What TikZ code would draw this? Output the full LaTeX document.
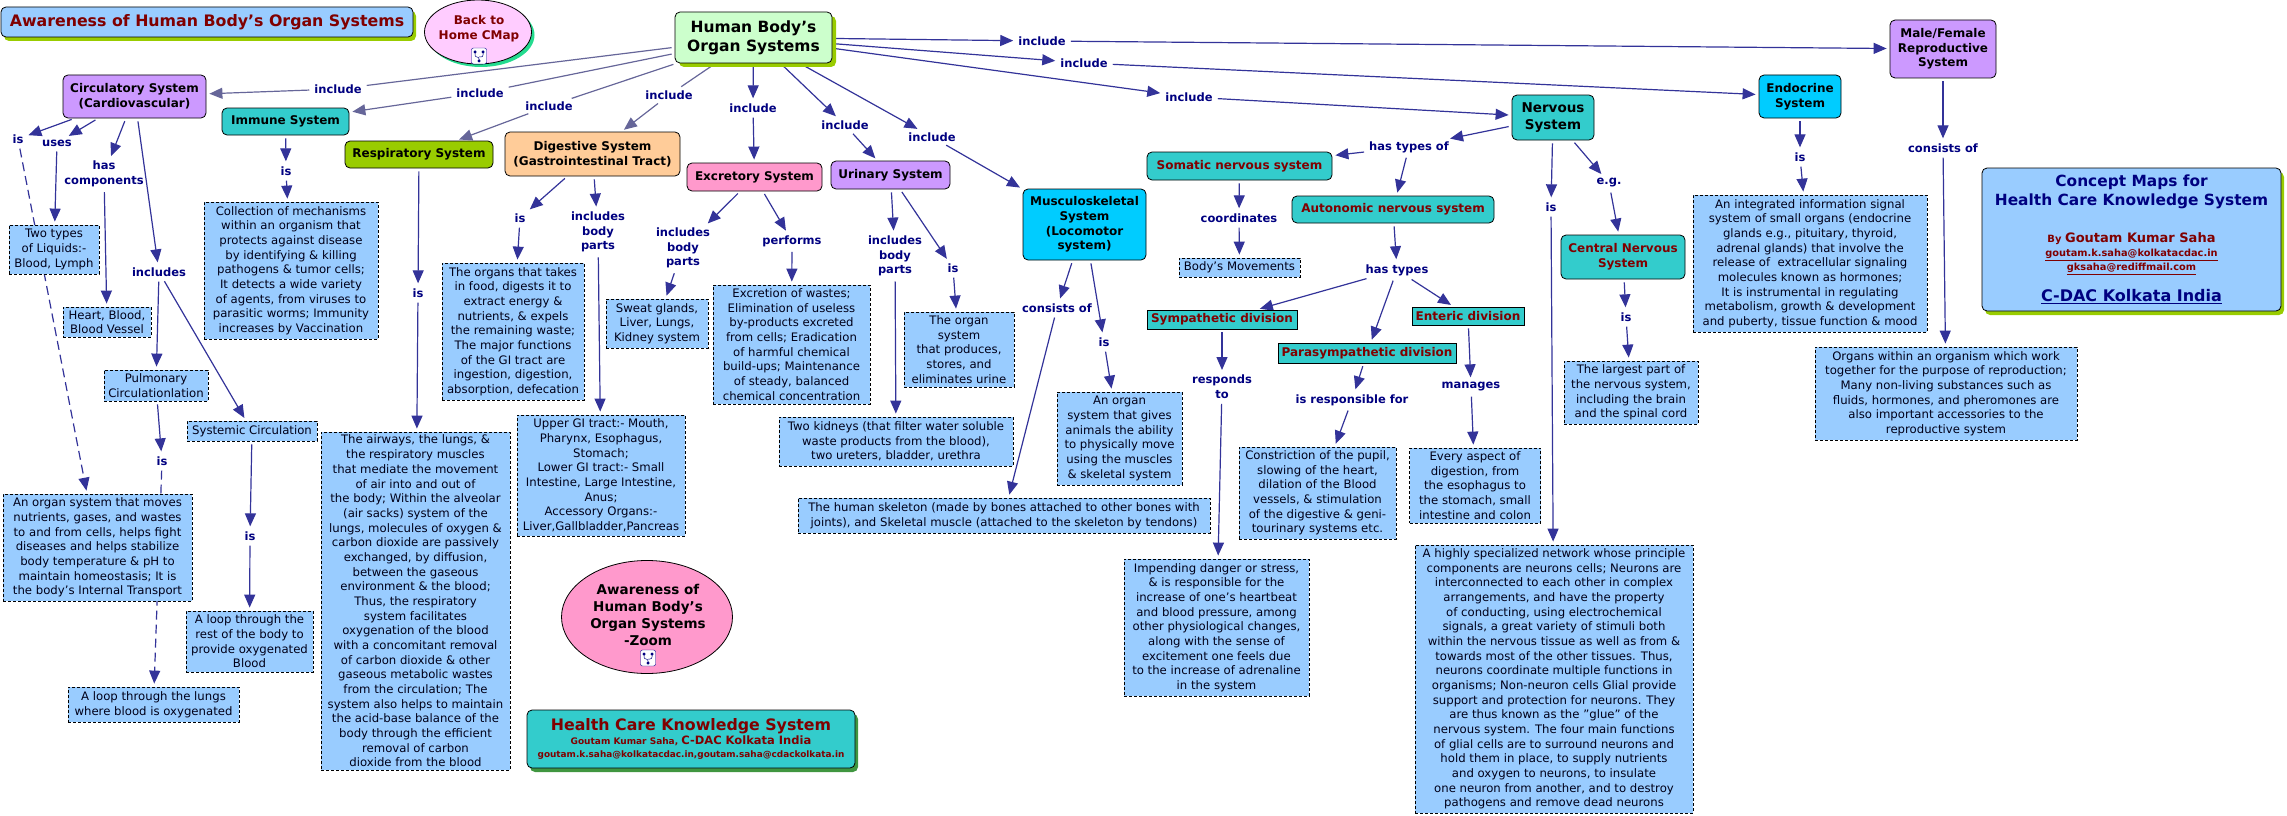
\documentclass[tikz,border=0pt]{standalone}
\usepackage{fontspec}
\setmainfont{DejaVu Sans}
\usetikzlibrary{shapes.geometric,arrows.meta,shadows,backgrounds}
\definecolor{linkblue}{HTML}{333399}
\definecolor{linkgrey}{HTML}{666699}
\definecolor{navytext}{HTML}{000080}
\definecolor{redtext}{HTML}{800000}
\definecolor{boxblue}{HTML}{99CCFF}
\definecolor{teal}{HTML}{33CCCC}
\definecolor{olive}{HTML}{99CC00}
\definecolor{lilac}{HTML}{CC99FF}
\definecolor{pinky}{HTML}{FF99CC}
\definecolor{skyblue}{HTML}{00CCFF}
\definecolor{peach}{HTML}{FFCC99}
\definecolor{mint}{HTML}{CCFFCC}
\definecolor{orchid}{HTML}{FFCCFF}
\tikzset{
  concept/.style={draw=black,line width=.8pt,rounded corners=5pt,inner sep=0pt,align=center,
    font=\fontsize{12}{14.67}\selectfont\bfseries},
  redconcept/.style={concept,fill=teal,text=redtext},
  reddiv/.style={redconcept,rounded corners=0pt},
  textbox/.style={draw=black,line width=.8pt,dash pattern=on 3pt off 2pt,fill=boxblue,inner sep=0pt,
    align=center,text=black!80!navytext,font=\fontsize{11.7}{14.67}\selectfont},
  phrase/.style={inner sep=2pt,align=center,text=navytext,font=\fontsize{11.5}{14.67}\selectfont\bfseries},
  link/.style={draw=linkblue,line width=1.2pt,shorten <=3pt,shorten >=3pt,-{Triangle[length=13pt,width=11pt]}},
  plainlink/.style={draw=linkblue,line width=1.2pt,shorten <=3pt,shorten >=3pt},
  dashlink/.style={link,dash pattern=on 9pt off 5pt},
  greylink/.style={link,draw=linkgrey},
  greyplain/.style={plainlink,draw=linkgrey},
  mapicon/.style={draw=blue!55!black,fill=white,rounded corners=2pt,inner sep=0pt,
    minimum width=15pt,minimum height=16pt,path picture={
      \draw[line width=.5pt,navytext] ([yshift=-4pt]path picture bounding box.center) -- +(0,3pt) -| ++(-4pt,7pt)
        ([yshift=-1pt]path picture bounding box.center) -| ++(4pt,4pt);
      \fill[navytext] ([yshift=-5pt]path picture bounding box.center) ++(-1.5pt,-1.5pt) rectangle +(3pt,3pt);
      \fill[navytext] ([xshift=-4pt,yshift=4pt]path picture bounding box.center) ++(-1.5pt,-1.5pt) rectangle +(3pt,3pt);
      \fill[navytext] ([xshift=4pt,yshift=4pt]path picture bounding box.center) ++(-1.5pt,-1.5pt) rectangle +(3pt,3pt);
    }}
}
\begin{document}
\begin{tikzpicture}[x=1pt,y=-1pt]
\useasboundingbox (0,0) rectangle (2287,816);
% heading and link boxes
\node[concept,fill=boxblue,text=redtext,minimum width=412pt,minimum height=30pt,font=\fontsize{15.8}{18}\selectfont\bfseries,
  drop shadow={shadow xshift=3pt,shadow yshift=-4pt,fill=olive,opacity=1}] (heading) at (207,22) {Awareness of Human Body's Organ Systems};
\node[draw=black,line width=.8pt,ellipse,fill=orchid,minimum width=107pt,minimum height=64pt,inner sep=0pt,
  drop shadow={shadow xshift=3pt,shadow yshift=-3pt,fill=teal!70!green,opacity=1}] (back) at (478,32) {};
\node[text=redtext,align=center,inner sep=0pt,font=\fontsize{12}{14.67}\selectfont\bfseries] (backtext) at (479,29) {Back to\\Home CMap};
\node[mapicon] (backicon) at (479,56) {};
\node[draw=black,line width=.8pt,ellipse,fill=pinky,minimum width=171pt,minimum height=113pt,inner sep=0pt] (zoomcmap) at (647,617) {};
\node[align=center,inner sep=0pt,font=\fontsize{13.5}{17}\selectfont\bfseries] (zoomtext) at (648,615) {Awareness of\\Human Body's\\Organ Systems\\-Zoom};
\node[mapicon] (zoomicon) at (648,658) {};
\node[concept,fill=teal,minimum width=328pt,minimum height=58pt,text=redtext,
  drop shadow={shadow xshift=3pt,shadow yshift=-4pt,fill=green!45!black!75,opacity=1}] (hcks) at (691,739)
  {\fontsize{15.8}{17}\selectfont Health Care Knowledge System\\[-1pt]
   {\fontsize{9}{14}\selectfont Goutam Kumar Saha, }{\fontsize{11.5}{14}\selectfont C-DAC Kolkata India}\\[-2pt]
   \fontsize{8.9}{12}\selectfont goutam.k.saha@kolkatacdac.in,goutam.saha@cdackolkata.in};
\node[concept,fill=boxblue,text=navytext,minimum width=299pt,minimum height=143pt,font=\fontsize{15.4}{19.5}\selectfont\bfseries,
  drop shadow={shadow xshift=3pt,shadow yshift=-4pt,fill=olive,opacity=1}] (credits) at (2131.5,239.5)
  {Concept Maps for\\Health Care Knowledge System\\[17pt]
   \textcolor{redtext}{{\fontsize{10}{14}\selectfont By }{\fontsize{13}{14}\selectfont Goutam Kumar Saha}}\\[-5pt]
   \textcolor{redtext}{\fontsize{9.8}{12}\selectfont\underline{goutam.k.saha@kolkatacdac.in}}\\[-6pt]
   \textcolor{redtext}{\fontsize{9.8}{12}\selectfont\underline{gksaha@rediffmail.com}}\\[12pt]
   \fontsize{16}{17}\selectfont\underline{C-DAC Kolkata India}};
% concepts
\node[concept,fill=mint,minimum width=157pt,minimum height=51pt,font=\fontsize{15.5}{19.3}\selectfont\bfseries,
  drop shadow={shadow xshift=4pt,shadow yshift=-4pt,fill=olive,opacity=1}] (human) at (753.5,37.5) {Human Body's\\Organ Systems};
\node[concept,fill=lilac,minimum width=143pt,minimum height=43pt] (circ) at (134.5,96.5) {Circulatory System\\(Cardiovascular)};
\node[concept,fill=teal,minimum width=127pt,minimum height=27pt] (immune) at (285.5,121.5) {Immune System};
\node[concept,fill=olive,minimum width=148pt,minimum height=27pt] (resp) at (419,154.5) {Respiratory System};
\node[concept,fill=peach,minimum width=175pt,minimum height=44pt] (digest) at (592.5,154) {Digestive System\\(Gastrointestinal Tract)};
\node[concept,fill=pinky,minimum width=135pt,minimum height=28pt] (excr) at (754.5,177) {Excretory System};
\node[concept,fill=lilac,minimum width=119pt,minimum height=28pt] (urinary) at (890.5,175) {Urinary System};
\node[concept,fill=skyblue,minimum width=123pt,minimum height=71pt] (musculo) at (1084.5,224.5) {Musculoskeletal\\System\\(Locomotor\\system)};
\node[redconcept,minimum width=185pt,minimum height=28pt] (somatic) at (1239.5,166) {Somatic nervous system};
\node[redconcept,minimum width=202pt,minimum height=27pt] (autonomic) at (1393,209.5) {Autonomic nervous system};
\node[concept,fill=teal,minimum width=82pt,minimum height=45pt,font=\fontsize{13.5}{17}\selectfont\bfseries] (nervous) at (1553,117.5) {Nervous\\System};
\node[concept,fill=skyblue,minimum width=82pt,minimum height=43pt] (endocrine) at (1800,96.5) {Endocrine\\System};
\node[concept,fill=lilac,minimum width=106pt,minimum height=58pt] (reprod) at (1943,49) {Male/Female\\Reproductive\\System};
\node[redconcept,minimum width=124pt,minimum height=44pt] (central) at (1623,257) {Central Nervous\\System};
\node[reddiv,minimum width=150pt,minimum height=19pt] (sympa) at (1222,319.5) {Sympathetic division};
\node[reddiv,minimum width=178pt,minimum height=20pt] (parasympa) at (1367,353) {Parasympathetic division};
\node[reddiv,minimum width=112pt,minimum height=18pt] (enteric) at (1468,316) {Enteric division};
% descriptions
\node[textbox,minimum width=90pt,minimum height=49pt] (twotypes) at (54,249.5) {Two types\\of Liquids:-\\Blood, Lymph};
\node[textbox,minimum width=88pt,minimum height=30pt] (heart) at (107,322) {Heart, Blood,\\Blood Vessel};
\node[textbox,minimum width=104pt,minimum height=31pt] (pulm) at (156,385.5) {Pulmonary\\Circulationlation};
\node[textbox,minimum width=130pt,minimum height=20pt] (systemic) at (252,431) {Systemic Circulation};
\node[textbox,minimum width=189pt,minimum height=107pt] (transport) at (97.5,547.5) {An organ system that moves\\nutrients, gases, and wastes\\to and from cells, helps fight\\diseases and helps stabilize\\body temperature \& pH to\\maintain homeostasis; It is\\the body's Internal Transport};
\node[textbox,minimum width=127pt,minimum height=61pt] (looprest) at (249.5,641.5) {A loop through the\\rest of the body to\\provide oxygenated\\Blood};
\node[textbox,minimum width=171pt,minimum height=35pt] (looplung) at (153.5,704.5) {A loop through the lungs\\where blood is oxygenated};
\node[textbox,minimum width=174pt,minimum height=137pt] (collection) at (291,270.5) {Collection of mechanisms\\within an organism that\\protects against disease\\by identifying \& killing\\pathogens \& tumor cells;\\It detects a wide variety\\of agents, from viruses to\\parasitic worms; Immunity\\increases by Vaccination};
\node[textbox,minimum width=189pt,minimum height=338pt] (airways) at (415.5,601) {The airways, the lungs, \&\\the respiratory muscles\\that mediate the movement\\of air into and out of\\the body; Within the alveolar\\(air sacks) system of the\\lungs, molecules of oxygen \&\\carbon dioxide are passively\\exchanged, by diffusion,\\between the gaseous\\environment \& the blood;\\Thus, the respiratory\\system facilitates\\oxygenation of the blood\\with a concomitant removal\\of carbon dioxide \& other\\gaseous metabolic wastes\\from the circulation; The\\system also helps to maintain\\the acid-base balance of the\\body through the efficient\\removal of carbon\\dioxide from the blood};
\node[textbox,minimum width=142pt,minimum height=137pt] (takes) at (513,331.5) {The organs that takes\\in food, digests it to\\extract energy \&\\nutrients, \& expels\\the remaining waste;\\The major functions\\of the GI tract are\\ingestion, digestion,\\absorption, defecation};
\node[textbox,minimum width=168pt,minimum height=121pt] (upper) at (601,475.5) {Upper GI tract:- Mouth,\\Pharynx, Esophagus,\\Stomach;\\Lower GI tract:- Small\\Intestine, Large Intestine,\\Anus;\\Accessory Organs:-\\Liver,Gallbladder,Pancreas};
\node[textbox,minimum width=102pt,minimum height=49pt] (sweat) at (657,323.5) {Sweat glands,\\Liver, Lungs,\\Kidney system};
\node[textbox,minimum width=157pt,minimum height=119pt] (excretion) at (791.5,344.5) {Excretion of wastes;\\Elimination of useless\\by-products excreted\\from cells; Eradication\\of harmful chemical\\build-ups; Maintenance\\of steady, balanced\\chemical concentration};
\node[textbox,minimum width=110pt,minimum height=75pt] (urineorgan) at (959,349.5) {The organ\\system\\that produces,\\stores, and\\eliminates urine};
\node[textbox,minimum width=234pt,minimum height=49pt] (kidneys) at (896,441.5) {Two kidneys (that filter water soluble\\waste products from the blood),\\two ureters, bladder, urethra};
\node[textbox,minimum width=125pt,minimum height=93pt] (moveorgan) at (1119.5,438.5) {An organ\\system that gives\\animals the ability\\to physically move\\using the muscles\\\& skeletal system};
\node[textbox,minimum width=412pt,minimum height=35pt] (skeleton) at (1004,515.5) {The human skeleton (made by bones attached to other bones with\\joints), and Skeletal muscle (attached to the skeleton by tendons)};
\node[textbox,minimum width=121pt,minimum height=19pt] (movements) at (1239.5,267.5) {Body's Movements};
\node[textbox,minimum width=157pt,minimum height=92pt] (constrict) at (1317.5,493) {Constriction of the pupil,\\slowing of the heart,\\dilation of the Blood\\vessels, \& stimulation\\of the digestive \& geni-\\tourinary systems etc.};
\node[textbox,minimum width=131pt,minimum height=75pt] (every) at (1475,485.5) {Every aspect of\\digestion, from\\the esophagus to\\the stomach, small\\intestine and colon};
\node[textbox,minimum width=185pt,minimum height=137pt] (impending) at (1216.5,627.5) {Impending danger or stress,\\\& is responsible for the\\increase of one's heartbeat\\and blood pressure, among\\other physiological changes,\\along with the sense of\\excitement one feels due\\to the increase of adrenaline\\in the system};
\node[textbox,minimum width=278pt,minimum height=268pt] (highly) at (1554,679) {A highly specialized network whose principle\\components are neurons cells; Neurons are\\interconnected to each other in complex\\arrangements, and have the property\\of conducting, using electrochemical\\signals, a great variety of stimuli both\\within the nervous tissue as well as from \&\\towards most of the other tissues. Thus,\\neurons coordinate multiple functions in\\organisms; Non-neuron cells Glial provide\\support and protection for neurons. They\\are thus known as the "glue" of the\\nervous system. The four main functions\\of glial cells are to surround neurons and\\hold them in place, to supply nutrients\\and oxygen to neurons, to insulate\\one neuron from another, and to destroy\\pathogens and remove dead neurons};
\node[textbox,minimum width=134pt,minimum height=63pt] (largest) at (1631,392.5) {The largest part of\\the nervous system,\\including the brain\\and the spinal cord};
\node[textbox,minimum width=234pt,minimum height=137pt] (integrated) at (1810,263.5) {An integrated information signal\\system of small organs (endocrine\\glands e.g., pituitary, thyroid,\\adrenal glands) that involve the\\release of~ extracellular signaling\\molecules known as hormones;\\It is instrumental in regulating\\metabolism, growth \& development\\and puberty, tissue function \& mood};
\node[textbox,minimum width=262pt,minimum height=93pt] (within) at (1946,393.5) {Organs within an organism which work\\together for the purpose of reproduction;\\Many non-living substances such as\\fluids, hormones, and pheromones are\\also important accessories to the\\reproductive system};
% linking phrases
\node[phrase] (incl1) at (338,89) {include};
\node[phrase] (incl2) at (480,93) {include};
\node[phrase] (incl3) at (549,106) {include};
\node[phrase] (incl4) at (669,95) {include};
\node[phrase] (incl5) at (753,108) {include};
\node[phrase] (incl6) at (845,125) {include};
\node[phrase] (incl7) at (932,137) {include};
\node[phrase] (incl8) at (1042,41) {include};
\node[phrase] (incl9) at (1084,63) {include};
\node[phrase] (incl10) at (1189,97) {include};
\node[phrase] (circis) at (18,139) {is};
\node[phrase] (circuses) at (57,143) {uses};
\node[phrase] (circhas) at (104,174) {has\\components};
\node[phrase] (circincl) at (159,272) {includes};
\node[phrase] (pulmis) at (162,461) {is};
\node[phrase] (systis) at (250,536) {is};
\node[phrase] (immis) at (286,171) {is};
\node[phrase] (respis) at (418,293) {is};
\node[phrase] (digis) at (520,218) {is};
\node[phrase] (digincl) at (598,232) {includes\\body\\parts};
\node[phrase] (excincl) at (683,248) {includes\\body\\parts};
\node[phrase] (excdoes) at (792,241) {performs};
\node[phrase] (urinincl) at (895,256) {includes\\body\\parts};
\node[phrase] (urinis) at (953,268) {is};
\node[phrase] (muscons) at (1057,308) {consists of};
\node[phrase] (musis) at (1104,342) {is};
\node[phrase] (nerv2types) at (1409,147) {has types of};
\node[phrase] (somcoord) at (1239,218) {coordinates};
\node[phrase] (auttypes) at (1397,270) {has types};
\node[phrase] (symresp) at (1222,387) {responds\\to};
\node[phrase] (parresp) at (1352,400) {is responsible for};
\node[phrase] (entman) at (1471,387) {manages};
\node[phrase] (nervis) at (1551,207) {is};
\node[phrase] (nerveg) at (1609,183) {e.g.};
\node[phrase] (centis) at (1626,317) {is};
\node[phrase] (endois) at (1800,157) {is};
\node[phrase] (repcons) at (1943,148) {consists of};
% connectors
\begin{scope}[on background layer]
\foreach \from/\to in {human/incl1,human/incl2,human/incl3,human/incl4}
  \draw[greyplain] (\from) -- (\to);
\foreach \from/\to in {incl1/circ,incl2/immune,incl3/resp,incl4/digest}
  \draw[greylink] (\from) -- (\to);
\foreach \from/\to in {human/incl5,incl5/excr,human/incl6,incl6/urinary,human/incl7,incl7/musculo,
    human/incl8,incl8/reprod,human/incl9,incl9/endocrine,human/incl10,incl10/nervous,
    circ/circis,circ/circuses,circuses/twotypes,circ/circhas,circhas/heart,circ/circincl,circincl/pulm,circincl/systemic,
    pulm/pulmis,systemic/systis,systis/looprest,immune/immis,immis/collection,resp/respis,respis/airways,
    digest/digis,digis/takes,digest/digincl,digincl/upper,excr/excincl,excincl/sweat,excr/excdoes,excdoes/excretion,
    urinary/urinincl,urinincl/kidneys,urinary/urinis,urinis/urineorgan,
    musculo/muscons,muscons/skeleton,musculo/musis,musis/moveorgan,
    nervous/nerv2types,nerv2types/somatic,nerv2types/autonomic,somatic/somcoord,somcoord/movements,
    autonomic/auttypes,auttypes/sympa,auttypes/parasympa,auttypes/enteric,sympa/symresp,symresp/impending,
    parasympa/parresp,parresp/constrict,enteric/entman,entman/every,
    nervous/nervis,nervis/highly,nervous/nerveg,nerveg/central,central/centis,centis/largest,
    endocrine/endois,endois/integrated,reprod/repcons,repcons/within}
  \draw[link] (\from) -- (\to);
\foreach \from/\to in {circis/transport,pulmis/looplung}
  \draw[dashlink] (\from) -- (\to);
\end{scope}
\end{tikzpicture}
\end{document}
